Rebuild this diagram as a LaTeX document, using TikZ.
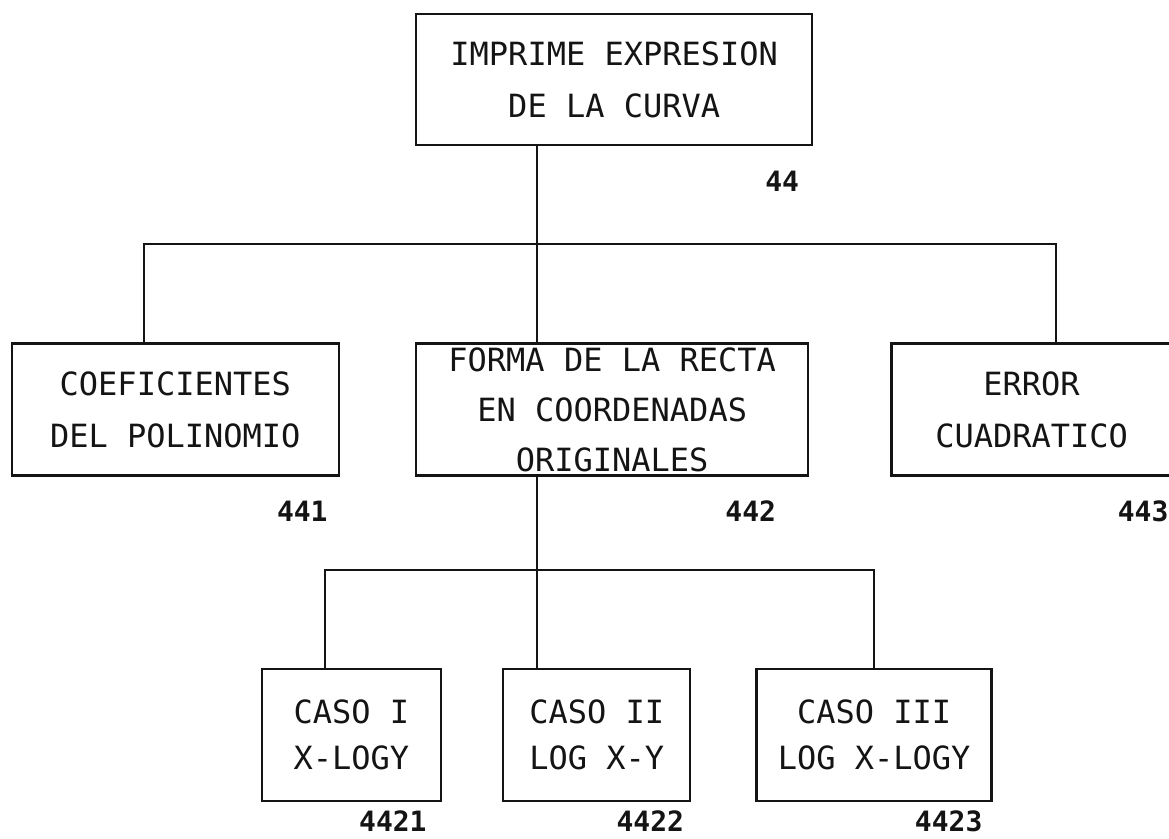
\documentclass[tikz,border=0pt]{standalone}
\usepackage{fontspec}
\usepackage{tikz}
\usetikzlibrary{positioning}
\newfontfamily\maquina{DejaVu Sans Mono}
\definecolor{tinta}{HTML}{141414}
\tikzset{
  modulo/.style={draw=tinta, line width=1.2pt, align=center, inner sep=0pt,
                 font=\maquina\fontsize{16}{26}\selectfont, text=tinta, minimum height=66pt},
  submodulo/.style={modulo, font=\maquina\fontsize{16}{23}\selectfont},
  rama/.style={draw=tinta, line width=1pt},
  num/.style={font=\maquina\bfseries\fontsize{14}{14}\selectfont, text=tinta, inner sep=0pt},
}
\begin{document}
\begin{tikzpicture}
  \useasboundingbox (0,0) rectangle (584.5pt,-419.5pt);
  \node[modulo, anchor=north west, minimum width=198pt, minimum height=65.5pt] (t44) at (207.5pt,-6.5pt) {IMPRIME EXPRESION\\ DE LA CURVA};

  \node[modulo, below=98pt of t44.south west, anchor=north west, minimum width=196pt,
        font=\maquina\fontsize{16}{25}\selectfont] (b442) {FORMA DE LA RECTA\\ EN COORDENADAS\\ ORIGINALES};
  \node[modulo, left=37.5pt of b442, minimum width=163.5pt] (b441) {COEFICIENTES\\ DEL POLINOMIO};
  \node[modulo, right=40.5pt of b442, minimum width=140pt] (b443) {ERROR\\ CUADRATICO};

  \node[submodulo, below=95.5pt of b442, xshift=-7.75pt, minimum width=93.5pt] (c4422) {CASO II\\ LOG X-Y};
  \node[submodulo, left=30pt of c4422, minimum width=89.5pt] (c4421) {CASO I\\ X-LOGY};
  \node[submodulo, right=32pt of c4422, minimum width=117.5pt] (c4423) {CASO III\\ LOG X-LOGY};

  \node[num, below left=12pt and 7pt of t44.south east] (n44) {44};
  \node[num, below left=12pt and 6pt of b441.south east] (n441) {441};
  \node[num, below left=12pt and 16.5pt of b442.south east] (n442) {442};
  \node[num, below left=12pt and 2pt of b443.south east] (n443) {443};
  \node[num, below left=4pt and 7.5pt of c4421.south east] (n4421) {4421};
  \node[num, below left=4pt and 3.5pt of c4422.south east] (n4422) {4422};
  \node[num, below left=4pt and 5pt of c4423.south east] (n4423) {4423};

  \coordinate (s44) at ([xshift=-38.5pt]t44.south);
  \coordinate (e441) at ([xshift=-15.75pt]b441.north);
  \coordinate (e442) at ([xshift=-37.5pt]b442.north);
  \coordinate (e443) at ([xshift=12pt]b443.north);
  \coordinate[above=49pt of e442] (m1);
  \draw[rama] (s44) -- (e442);
  \draw[rama] (e441) |- (m1) -| (e443);

  \coordinate (s442) at ([xshift=-37.5pt]b442.south);
  \coordinate (e4421) at ([xshift=-13.25pt]c4421.north);
  \coordinate (e4422) at ([xshift=-29.75pt]c4422.north);
  \coordinate[above=49pt of e4422] (m2);
  \draw[rama] (s442) -- (e4422);
  \draw[rama] (e4421) |- (m2) -| (c4423.north);
\end{tikzpicture}
\end{document}
